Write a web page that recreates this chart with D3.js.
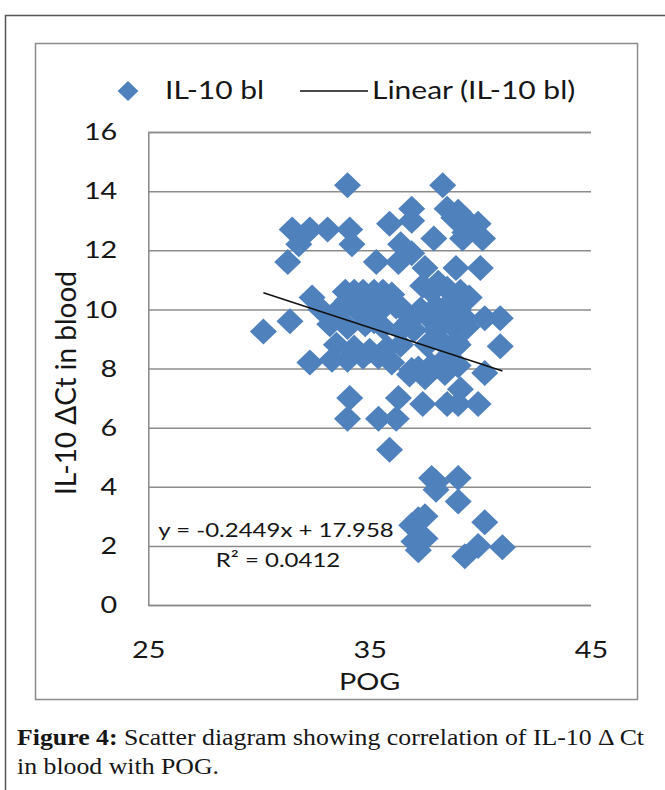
<!DOCTYPE html>
<html>
<head>
<meta charset="utf-8">
<script src="https://cdn.jsdelivr.net/npm/d3@7"></script>
<style>
  html, body { margin: 0; padding: 0; background: #fff; }
  svg { display: block; }
</style>
</head>
<body>
<div id="chart"></div>
<script>
// POG (x) and IL-10 delta Ct in blood (y)
const pog = [
  34.0, 38.3,
  36.9, 38.5, 39.0, 38.8, 39.4, 39.9, 36.9, 35.9,
  31.5, 32.3, 33.1, 34.1,
  31.8, 34.2, 36.4, 36.9, 37.9, 39.2, 40.1, 39.3,
  31.3, 35.3, 36.3, 37.5, 38.9, 40.0,
  32.4, 33.9, 34.3, 34.7, 35.2, 35.6, 36.0, 37.4, 38.1, 37.8, 38.5, 39.1, 39.5, 34.0, 35.0, 35.8,
  31.4, 30.2, 32.8, 33.6, 34.4, 35.4, 36.2, 36.5, 37.3, 38.0, 38.6, 39.0, 38.3, 36.8, 37.7, 39.3, 40.2, 40.9,
  33.2, 34.0, 34.8, 35.6, 36.4, 37.0, 38.0, 38.8, 39.4, 35.2, 33.5,
  33.5, 34.3, 35.0, 35.8, 36.4, 37.6, 38.4, 39.0, 40.9, 38.9,
  32.3, 33.3, 34.0, 34.7, 35.4, 36.0, 37.2, 37.8, 38.4, 39.0, 38.5, 36.9,
  36.8, 37.5, 38.4, 40.2,
  34.1, 36.3, 39.1,
  37.4, 38.5, 39.0, 39.9,
  34.0, 35.4, 36.2,
  35.9,
  37.8, 38.0, 39.0, 38.0, 39.0, 40.2, 37.2, 36.9, 37.0, 37.5, 37.2, 39.9, 41.0, 39.3, 37.5
];
const ilCt = [
  14.2, 14.2,
  13.4, 13.4, 13.3, 13.1, 13.0, 12.9, 13.0, 12.9,
  12.7, 12.7, 12.7, 12.7,
  12.2, 12.2, 12.2, 11.9, 12.4, 12.4, 12.4, 12.6,
  11.6, 11.6, 11.6, 11.4, 11.4, 11.4,
  10.4, 10.6, 10.6, 10.6, 10.6, 10.6, 10.5, 10.8, 10.9, 10.6, 10.7, 10.6, 10.4, 10.3, 10.2, 10.3,
  9.6, 9.25, 10.0, 10.0, 10.0, 9.9, 10.1, 10.0, 10.0, 10.1, 10.2, 10.0, 9.8, 9.6, 9.7, 9.7, 9.7, 9.7,
  9.5, 9.4, 9.5, 9.4, 9.3, 9.3, 9.3, 9.4, 9.4, 9.6, 9.8,
  8.8, 8.7, 8.6, 8.7, 8.8, 8.8, 8.8, 8.8, 8.75, 8.9,
  8.2, 8.3, 8.3, 8.4, 8.4, 8.2, 8.0, 8.1, 8.0, 8.1, 8.4, 7.95,
  7.8, 7.7, 7.85, 7.85,
  7.0, 7.0, 7.3,
  6.8, 6.8, 6.8, 6.8,
  6.3, 6.3, 6.3,
  5.25,
  4.3, 4.15, 4.3, 3.9, 3.5, 2.8, 2.9, 2.7, 2.15, 2.25, 1.85, 2.0, 1.95, 1.65, 3.0
];

const xTicks = [25, 35, 45];
const yTicks = [0, 2, 4, 6, 8, 10, 12, 14, 16];
const trendSlope = -0.2449;
const trendIntercept = 17.958;
const equationText = "y = -0.2449x + 17.958";
const r2Text = "R² = 0.0412";

const width = 665, height = 790;
const blue = "#4f81bd";
const font = "Lato, 'Open Sans', sans-serif";
const ink = "#161616";
const stretch = 1.2; // the original figure is a bit wider than tall

const points = pog.map((x, i) => ({ x, y: ilCt[i] }));

const svg = d3.select("#chart")
  .append("svg")
  .attr("width", width)
  .attr("height", height);

// outer frame (left and top edges visible)
svg.append("path")
  .attr("d", `M5.5,${height} V15.5 H${width}`)
  .attr("fill", "none")
  .attr("stroke", "#555")
  .attr("stroke-width", 1.5);

// chart area box
svg.append("rect")
  .attr("x", 35.5).attr("y", 43.5)
  .attr("width", 602).attr("height", 656)
  .attr("fill", "#fff")
  .attr("stroke", "#8c8c8c")
  .attr("stroke-width", 1.5);

const xScale = d3.scaleLinear().domain([25, 45]).range([148.3, 591]);
const yScale = d3.scaleLinear().domain([0, 16]).range([605, 132]);

// y axis with gridlines
const yAxis = svg.append("g")
  .attr("transform", `translate(${xScale(25)},0)`)
  .call(d3.axisLeft(yScale).tickValues(yTicks).tickSize(-(xScale(45) - xScale(25))).tickPadding(31));
yAxis.select(".domain").attr("stroke", "#888").attr("stroke-width", 1.5);
yAxis.selectAll(".tick line").attr("stroke", "#8c8c8c").attr("stroke-width", 1.5);
yAxis.selectAll(".tick text")
  .attr("x", 0)
  .attr("transform", `translate(-31,0) scale(${stretch},1)`)
  .attr("font-family", font).attr("font-size", 24).attr("fill", ink);

// x axis labels
const xAxis = svg.append("g")
  .attr("transform", `translate(0,${yScale(0)})`)
  .call(d3.axisBottom(xScale).tickValues(xTicks).tickSize(0).tickPadding(36));
xAxis.select(".domain").remove();
xAxis.selectAll(".tick text")
  .attr("transform", `scale(${stretch},1)`)
  .attr("font-family", font).attr("font-size", 24).attr("fill", ink);

// helper for horizontally stretched text
const label = (x, y, txt, size, anchor) => svg.append("text")
  .attr("transform", `translate(${x},${y}) scale(${stretch},1)`)
  .attr("text-anchor", anchor)
  .attr("font-family", font).attr("font-size", size).attr("fill", ink)
  .text(txt);

// axis titles
label(xScale(35), 690, "POG", 24, "middle");

svg.append("text")
  .attr("transform", `translate(76,383) rotate(-90)`)
  .attr("text-anchor", "middle")
  .attr("font-family", font).attr("font-size", 28).attr("fill", ink)
  .text("IL-10 ΔCt in blood");

// points
const diamond = (cx, cy, r) => `M${cx},${cy - r} L${cx + r * 1.04},${cy} L${cx},${cy + r} L${cx - r * 1.04},${cy} Z`;
svg.append("g")
  .selectAll("path")
  .data(points)
  .join("path")
  .attr("d", d => diamond(xScale(d.x), yScale(d.y), 13))
  .attr("fill", blue);

// linear trendline over data range
const [xMin, xMax] = d3.extent(pog);
const trend = [xMin, xMax].map(x => ({ x, y: trendSlope * x + trendIntercept }));
svg.append("path")
  .attr("d", d3.line().x(d => xScale(d.x)).y(d => yScale(d.y))(trend))
  .attr("fill", "none")
  .attr("stroke", "#111")
  .attr("stroke-width", 1.5);

// equation label
label(276, 537, equationText, 20, "middle");
label(278, 567, r2Text, 20, "middle");

// legend
svg.append("path").attr("d", diamond(128, 91, 10)).attr("fill", blue);
label(165, 99, "IL-10 bl", 25, "start");
svg.append("line")
  .attr("x1", 300).attr("x2", 368).attr("y1", 91).attr("y2", 91)
  .attr("stroke", "#111").attr("stroke-width", 1.5);
label(372, 99, "Linear (IL-10 bl)", 25, "start");

// caption
const caption = svg.append("text")
  .attr("transform", "translate(17,0) scale(1.075,1)")
  .attr("font-family", "'Liberation Serif', 'DejaVu Serif', serif")
  .attr("font-size", 24).attr("fill", ink);
caption.append("tspan").attr("x", 0).attr("y", 745)
  .attr("font-weight", "bold").text("Figure 4:");
caption.append("tspan").text(" Scatter diagram showing correlation of IL-10 Δ Ct");
caption.append("tspan").attr("x", 0).attr("y", 774).text("in blood with POG.");
</script>
</body>
</html>
